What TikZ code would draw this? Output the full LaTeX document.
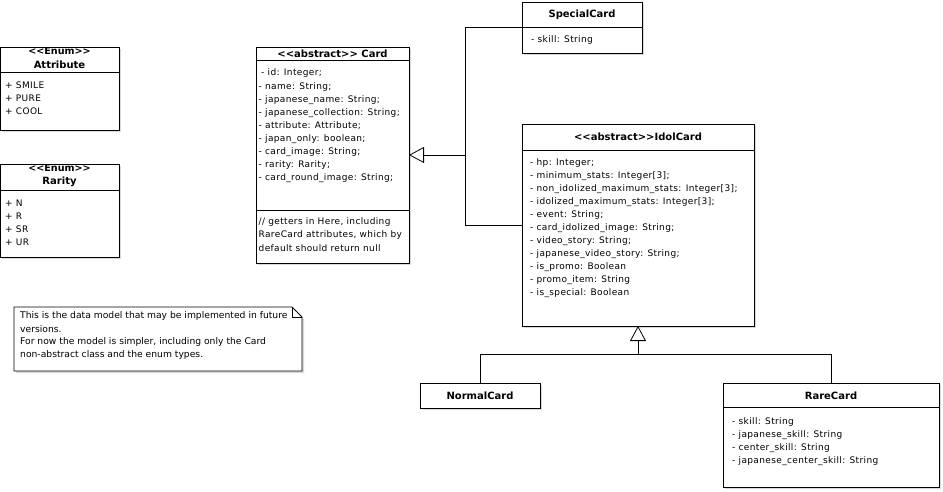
\documentclass[tikz,border=0pt]{standalone}
\usepackage{fontspec}
\setmainfont{DejaVu Sans}
\newfontfamily\itemfont{DejaVu Sans}[LetterSpace=4]
\usetikzlibrary{arrows.meta,shadows}
\newcommand{\lt}{<\kern0pt<}
\newcommand{\gt}{>\kern0pt>}
\tikzset{
  cls/.style={draw, fill=white, line width=0.9pt, anchor=north west, inner sep=0pt, outer sep=0pt,
    drop shadow={opacity=0.3, shadow xshift=2pt, shadow yshift=-2pt}},
  sep/.style={line width=0.9pt},
  ttl/.style={font=\bfseries\fontsize{10}{12}\selectfont, inner sep=0pt},
  stereo/.style={font=\bfseries\fontsize{9.6}{11}\selectfont, inner sep=0pt},
  item/.style={font=\itemfont\fontsize{9}{11}\selectfont, anchor=west, inner sep=0pt},
  notetxt/.style={font=\fontsize{9.2}{11}\selectfont, anchor=west, inner sep=0pt},
  conn/.style={line width=0.8pt},
  inh/.style={conn, -{Triangle[open, length=15pt, width=16pt]}},
}
\begin{document}
\begin{tikzpicture}[x=1pt,y=-1pt]
\useasboundingbox (0,0) rectangle (943,492);
% ---------- Attribute
\node[cls, minimum width=119pt, minimum height=83pt] (attr) at (0,47) {};
\draw[sep] (0,72) -- (119,72);
\node[stereo] (attrs) at (59.5,51.5) {\lt Enum\gt};
\node[ttl] (attrt) at (59.5,65) {Attribute};
\node[item] (a1) at (5,85) {+ SMILE};
\node[item] (a2) at (5,98) {+ PURE};
\node[item] (a3) at (5,111) {+ COOL};
% ---------- Rarity
\node[cls, minimum width=119pt, minimum height=93pt] (rar) at (0,164) {};
\draw[sep] (0,190) -- (119,190);
\node[stereo] (rars) at (59.5,168.5) {\lt Enum\gt};
\node[ttl] (rart) at (59.5,182) {Rarity};
\node[item] (r1) at (5,203) {+ N};
\node[item] (r2) at (5,216) {+ R};
\node[item] (r3) at (5,229) {+ SR};
\node[item] (r4) at (5,242) {+ UR};
% ---------- Card
\node[cls, minimum width=153pt, minimum height=216pt] (card) at (256,47) {};
\draw[sep] (256,60) -- (409,60);
\draw[sep] (256,210) -- (409,210);
\node[ttl] (cardt) at (332.5,53.5) {\lt abstract\gt{} Card};
\node[item] (c1) at (261,73) {- id: Integer;};
\node[item] (c2) at (258.5,87) {- name: String;};
\node[item] (c3) at (258.5,100) {- japanese\_name: String;};
\node[item] (c4) at (258.5,113) {- japanese\_collection: String;};
\node[item] (c5) at (258.5,126) {- attribute: Attribute;};
\node[item] (c6) at (258.5,139) {- japan\_only: boolean;};
\node[item] (c7) at (258.5,152) {- card\_image: String;};
\node[item] (c8) at (258.5,165) {- rarity: Rarity;};
\node[item] (c9) at (258.5,178) {- card\_round\_image: String;};
\node[item] (g1) at (258.5,222.5) {// getters in Here, including};
\node[item] (g2) at (258.5,235.5) {RareCard attributes, which by};
\node[item] (g3) at (258.5,248.5) {default should return null};
% ---------- SpecialCard
\node[cls, minimum width=120pt, minimum height=51pt] (special) at (522,2) {};
\draw[sep] (522,27) -- (642,27);
\node[ttl] (spt) at (582,14.5) {SpecialCard};
\node[item] (sp1) at (531,40) {- skill: String};
% ---------- IdolCard
\node[cls, minimum width=232pt, minimum height=202pt] (idol) at (522,124) {};
\draw[sep] (522,150) -- (754,150);
\node[ttl] (idt) at (638,137) {\lt abstract\gt IdolCard};
\node[item] (i1) at (530,163) {- hp: Integer;};
\node[item] (i2) at (530,176) {- minimum\_stats: Integer[3];};
\node[item] (i3) at (530,189) {- non\_idolized\_maximum\_stats: Integer[3];};
\node[item] (i4) at (530,202) {- idolized\_maximum\_stats: Integer[3];};
\node[item] (i5) at (530,215) {- event: String;};
\node[item] (i6) at (530,228) {- card\_idolized\_image: String;};
\node[item] (i7) at (530,241) {- video\_story: String;};
\node[item] (i8) at (530,254) {- japanese\_video\_story: String;};
\node[item] (i9) at (530,267) {- is\_promo: Boolean};
\node[item] (i10) at (530,280) {- promo\_item: String};
\node[item] (i11) at (530,293) {- is\_special: Boolean};
% ---------- NormalCard
\node[cls, minimum width=120pt, minimum height=25pt] (normal) at (420,383) {};
\node[ttl] (nt) at (480,396) {NormalCard};
% ---------- RareCard
\node[cls, minimum width=216pt, minimum height=104pt] (rare) at (723,383) {};
\draw[sep] (723,407) -- (939,407);
\node[ttl] (rt) at (831,396) {RareCard};
\node[item] (rc1) at (732,422) {- skill: String};
\node[item] (rc2) at (732,435) {- japanese\_skill: String};
\node[item] (rc3) at (732,448) {- center\_skill: String};
\node[item] (rc4) at (732,461) {- japanese\_center\_skill: String};
% ---------- Note
\draw[line width=0.8pt, fill=white, drop shadow={opacity=0.3, shadow xshift=2pt, shadow yshift=-2pt}]
  (14,307) -- (292,307) -- (302,317) -- (302,371) -- (14,371) -- cycle;
\draw[line width=0.8pt] (292,307) -- (292,317) -- (302,317);
\node[notetxt] (n1) at (20,316) {This is the data model that may be implemented in future};
\node[notetxt] (n2) at (20,329) {versions.};
\node[notetxt] (n3) at (20,342) {For now the model is simpler, including only the Card};
\node[notetxt] (n4) at (20,355) {non-abstract class and the enum types.};
% ---------- connectors
\path (card.east) ++(56,0) coordinate (j);
\path (idol.south) ++(0,28) coordinate (k);
\draw[conn] (special.west) -| (j);
\draw[conn] (idol.west) -| (j);
\draw[inh] (j) -- (card.east);
\draw[conn] (normal.north) |- (k);
\draw[conn] (rare.north) |- (k);
\draw[inh] (k) -- (idol.south);
\end{tikzpicture}
\end{document}
